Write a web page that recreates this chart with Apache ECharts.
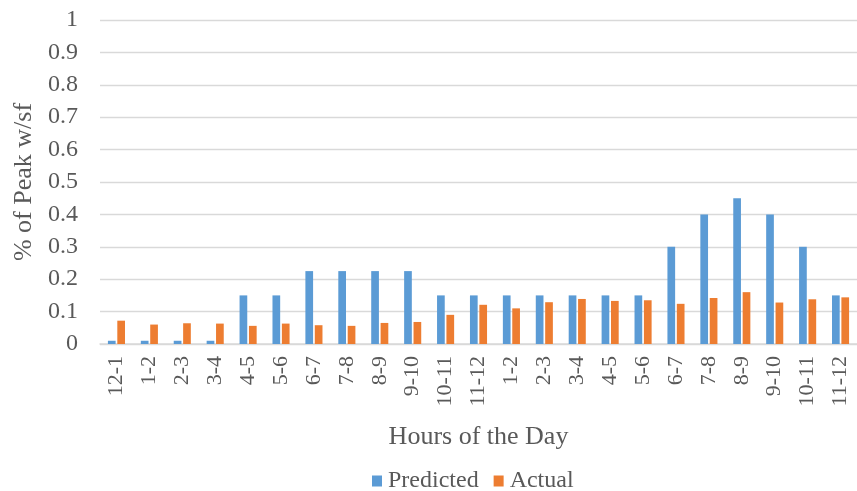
<!DOCTYPE html>
<html>
<head>
<meta charset="utf-8">
<script src="https://cdn.jsdelivr.net/npm/echarts@6/dist/echarts.min.js"></script>
<style>
html,body{margin:0;padding:0;background:#fff;}
#chart{width:857px;height:491px;}
</style>
</head>
<body>
<div id="chart"></div>
<script>
const categories = ['12-1','1-2','2-3','3-4','4-5','5-6','6-7','7-8','8-9','9-10','10-11','11-12',
                    '1-2','2-3','3-4','4-5','5-6','6-7','7-8','8-9','9-10','10-11','11-12'];
const predicted = [0.01,0.01,0.01,0.01,0.15,0.15,0.225,0.225,0.225,0.225,0.15,0.15,
                   0.15,0.15,0.15,0.15,0.15,0.3,0.4,0.45,0.4,0.3,0.15];
const actual = [0.072,0.06,0.064,0.063,0.056,0.063,0.058,0.056,0.065,0.068,0.09,0.121,
                0.11,0.129,0.139,0.133,0.135,0.124,0.142,0.16,0.128,0.138,0.144];
const yTicks = [0,0.1,0.2,0.3,0.4,0.5,0.6,0.7,0.8,0.9,1];

const font = "'Liberation Serif','Times New Roman',serif";
const grey = '#595959';
const chart = echarts.init(document.getElementById('chart'), null, {renderer:'canvas'});
chart.setOption({
  animation:false,
  backgroundColor:'#fff',
  grid:{left:100, top:20, width:766, height:324, containLabel:false},
  legend:{
    data:['Predicted','Actual'],
    left:372, top:469, padding:0,
    icon:'rect', itemWidth:10, itemHeight:11, itemGap:15,
    textStyle:{fontFamily:font, fontSize:24, color:grey, padding:[0,0,0,1]}
  },
  xAxis:{
    type:'category', data:categories,
    name:'Hours of the Day', nameLocation:'middle', nameGap:80,
    nameTextStyle:{fontFamily:font, fontSize:26, color:grey},
    axisLine:{lineStyle:{color:'#d9d9d9', width:1.5}},
    axisTick:{show:false},
    axisLabel:{rotate:90, interval:0, margin:12, fontFamily:font, fontSize:22, color:grey}
  },
  yAxis:{
    type:'value', min:0, max:1, interval:0.1,
    name:'% of Peak w/sf', nameLocation:'middle', nameGap:54, nameRotate:90,
    nameTextStyle:{fontFamily:font, fontSize:26, color:grey},
    axisLine:{show:false}, axisTick:{show:false},
    splitLine:{lineStyle:{color:'#d9d9d9', width:1.3}},
    axisLabel:{margin:22, fontFamily:font, fontSize:24, color:grey,
      formatter:function(v){ let best=yTicks[0]; yTicks.forEach(t=>{if(Math.abs(t-v)<Math.abs(best-v)) best=t;}); return String(best);} }
  },
  series:[
    {name:'Predicted', type:'bar', data:predicted, barWidth:7.7, barGap:'22%', itemStyle:{color:'#5b9bd5'}},
    {name:'Actual', type:'bar', data:actual, barWidth:7.7, barGap:'22%', itemStyle:{color:'#ed7d31'}}
  ]
});
</script>
</body>
</html>
